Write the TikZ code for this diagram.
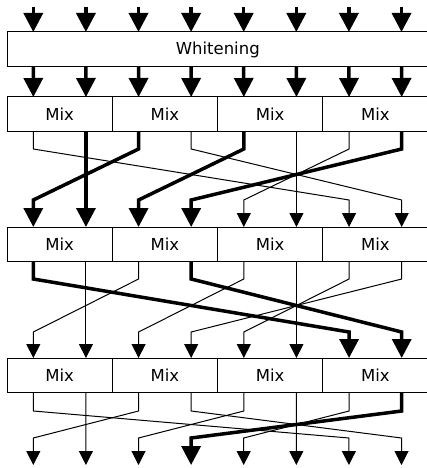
\documentclass[tikz,border=0pt]{standalone}
\usepackage{fontspec}
\setmainfont{DejaVu Sans}
\usetikzlibrary{arrows.meta,calc}
\begin{document}
\begin{tikzpicture}[x=1pt,y=-1pt,
  box/.style={draw,line width=1pt,minimum height=34pt,inner sep=0pt,outer sep=0pt,
    anchor=north west,font=\fontsize{16.5}{18}\selectfont},
  thinarrow/.style={line width=1pt,line join=miter,-{Triangle[length=14pt,width=14pt]}},
  thickarrow/.style={line width=3.5pt,line join=miter,-{Triangle[length=19pt,width=19pt]}},
]
\useasboundingbox (0,0) rectangle (426,468);
% boxes
\node[box,minimum width=421.5pt,minimum height=35pt] (wh) at (7,32) {Whitening};
\foreach \r/\y in {1/97,2/227,3/358} {
  \foreach \b in {0,...,3} {
    \node[box,minimum width=105.25pt] (m\r\b) at ({7+105.25*\b},\y) {Mix};
  }
}
% ports
\foreach \k in {0,...,7} {
  \coordinate (s-\k) at ({33.3+52.6*\k},7);
  \coordinate (wt-\k) at ($(wh.north west)+({26.3+52.6*\k},0)$);
  \coordinate (wb-\k) at ($(wh.south west)+({26.3+52.6*\k},0)$);
  \coordinate (e-\k) at ({33.3+52.6*\k},465);
}
\foreach \r in {1,2,3} {
  \foreach \b in {0,...,3} {
    \pgfmathtruncatemacro\ka{2*\b}
    \pgfmathtruncatemacro\kb{2*\b+1}
    \coordinate (i\r-\ka) at ($(m\r\b.north west)!0.25!(m\r\b.north east)$);
    \coordinate (i\r-\kb) at ($(m\r\b.north west)!0.75!(m\r\b.north east)$);
    \coordinate (o\r-\ka) at ($(m\r\b.south west)!0.25!(m\r\b.south east)$);
    \coordinate (o\r-\kb) at ($(m\r\b.south west)!0.75!(m\r\b.south east)$);
  }
}
% input and whitening arrows
\foreach \k in {0,...,7} {
  \draw[thickarrow] (s-\k) -- (wt-\k);
  \draw[thickarrow] (wb-\k) -- (i1-\k);
}
% section 1: Mix row 1 -> Mix row 2
\foreach \j/\p in {0/6,3/7,5/5,6/4}
  \draw[thinarrow] (o1-\j) -- ++(0,18) -- ($(i2-\p)+(0,-27)$) -- (i2-\p);
\foreach \j/\p in {1/1,2/0,4/2,7/3}
  \draw[thickarrow] (o1-\j) -- ++(0,18) -- ($(i2-\p)+(0,-27)$) -- (i2-\p);
% section 2: Mix row 2 -> Mix row 3
\foreach \j/\p in {1/1,2/0,4/2,5/5,6/4,7/3}
  \draw[thinarrow] (o2-\j) -- ++(0,18) -- ($(i3-\p)+(0,-26)$) -- (i3-\p);
\foreach \j/\p in {0/6,3/7}
  \draw[thickarrow] (o2-\j) -- ++(0,18) -- ($(i3-\p)+(0,-26)$) -- (i3-\p);
% section 3: Mix row 3 -> outputs
\foreach \j/\p in {0/6,1/1,2/0,3/7,4/2,5/5,6/4}
  \draw[thinarrow] (o3-\j) -- ++(0,19) -- ($(e-\p)+(0,-27)$) -- (e-\p);
\foreach \j/\p in {7/3}
  \draw[thickarrow] (o3-\j) -- ++(0,19) -- ($(e-\p)+(0,-27)$) -- (e-\p);
\end{tikzpicture}
\end{document}
